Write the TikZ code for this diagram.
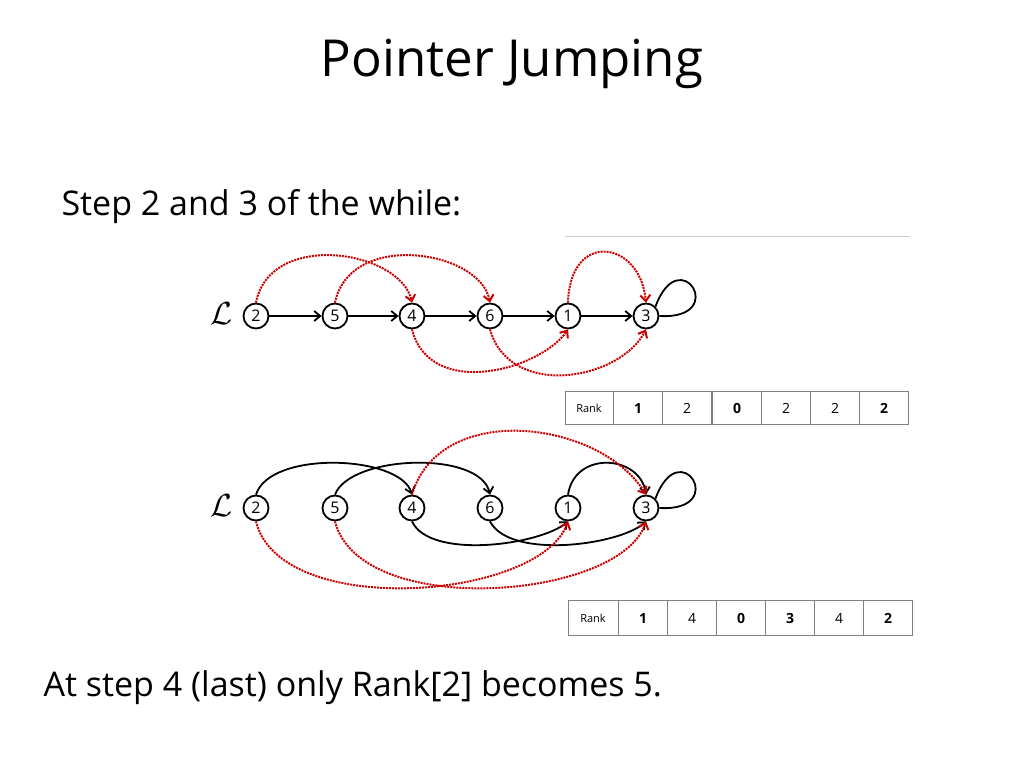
\documentclass[tikz,border=0pt]{standalone}
\usepackage{fontspec}
\setmainfont{Open Sans}
\usetikzlibrary{arrows.meta}
\tikzset{
  vert/.style={circle, draw, line width=1.8pt, inner sep=0pt, minimum size=25pt, font=\fontsize{16}{16}\selectfont},
  nxt/.style={-{Straight Barb[length=6pt,width=10pt]}, line width=1.8pt},
  jump/.style={-{Straight Barb[length=6pt,width=10pt]}, red!80!black, densely dotted, line width=2pt},
  cell/.style={draw=gray, line width=1pt, minimum height=33pt, inner sep=0pt, font=\fontsize{14}{14}\selectfont},
  script/.style={scale=3.2}
}
\begin{document}
\begin{tikzpicture}[x=1pt, y=-1pt]
\useasboundingbox (0,0) rectangle (1024,768);
\node[font=\fontsize{51}{51}\selectfont] (title) at (512,64) {Pointer Jumping};
\node[anchor=west, font=\fontsize{34}{34}\selectfont] (step) at (58,207) {Step 2 and 3 of the while:};
\draw[gray!40] (565,236) -- (910,236);
% first list
\foreach \v/\x in {2/256,5/335,4/412,6/490,1/568,3/646} {
  \node[vert] (a\v) at (\x,316) {\v};
  \node[vert] (b\v) at (\x,508) {\v};
}
\node[script] (la) at (222,314) {$\mathcal{L}$};
\node[script] (lb) at (222,506) {$\mathcal{L}$};
\draw[nxt] (a2) -- (a5);
\draw[nxt] (a5) -- (a4);
\draw[nxt] (a4) -- (a6);
\draw[nxt] (a6) -- (a1);
\draw[nxt] (a1) -- (a3);
\draw[line width=1.8pt] (a3.north east) .. controls (680,240) and (730,320) .. (a3.east);
\draw[jump] (a2.north) .. controls (270,230) and (400,250) .. (a4.north);
\draw[jump] (a5.north) .. controls (350,230) and (480,250) .. (a6.north);
\draw[jump] (a1.north) .. controls (570,230) and (640,240) .. (a3.north);
\draw[jump] (a4.south) .. controls (430,400) and (540,370) .. (a1.south);
\draw[jump] (a6.south) .. controls (510,400) and (620,380) .. (a3.south);
% second list
\draw[nxt] (b2.north) .. controls (270,450) and (400,455) .. (b4.north);
\draw[nxt] (b5.north) .. controls (350,455) and (480,450) .. (b6.north);
\draw[nxt] (b1.north) .. controls (575,450) and (640,455) .. (b3.north);
\draw[line width=1.8pt] (b3.north east) .. controls (680,432) and (730,512) .. (b3.east);
\draw[nxt] (b4.south) .. controls (430,560) and (540,545) .. (b1.south);
\draw[nxt] (b6.south) .. controls (510,560) and (620,545) .. (b3.south);
\draw[jump] (b4.north) .. controls (440,400) and (600,420) .. (b3.north);
\draw[jump] (b2.south) .. controls (280,620) and (540,600) .. (b1.south);
\draw[jump] (b5.south) .. controls (360,620) and (620,600) .. (b3.south);
% rank tables
\node[cell, minimum width=48pt, font=\fontsize{11}{11}\selectfont] (r0) at (589,408) {Rank};
\foreach \i/\x/\t in {1/638/\textbf{1},2/687/2,3/737/\textbf{0},4/786/2,5/835/2,6/884/\textbf{2}}
  \node[cell, minimum width=49pt] (r\i) at (\x,408) {\t};
\node[cell, minimum width=50pt, minimum height=35pt, font=\fontsize{11}{11}\selectfont] (s0) at (593,618) {Rank};
\foreach \i/\x/\t in {1/643/\textbf{1},2/692/4,3/741/\textbf{0},4/790/\textbf{3},5/839/4,6/888/\textbf{2}}
  \node[cell, minimum width=49pt, minimum height=35pt] (s\i) at (\x,618) {\t};
\node[anchor=west, font=\fontsize{34}{34}\selectfont] (last) at (40,688) {At step 4 (last) only Rank[2] becomes 5.};
\end{tikzpicture}
\end{document}
